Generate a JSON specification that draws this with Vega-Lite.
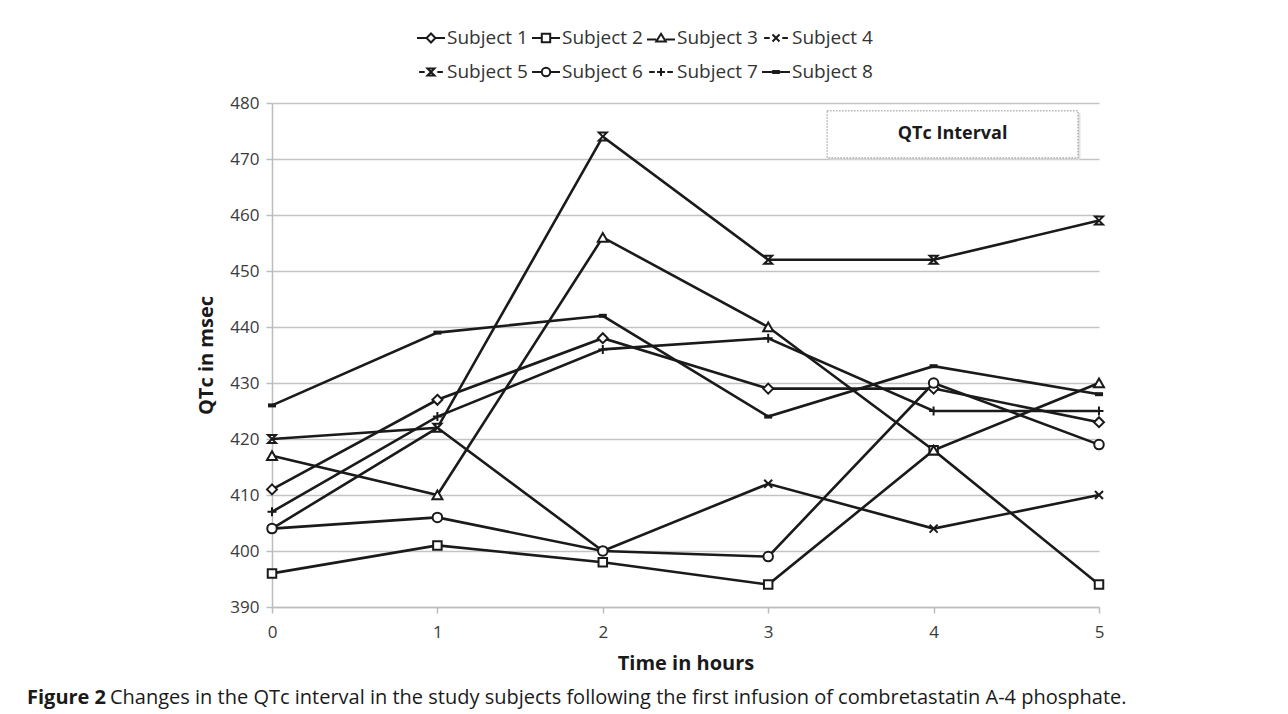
{
  "$schema": "https://vega.github.io/schema/vega-lite/v6.json",
  "width": 827,
  "height": 504,
  "autosize": {"type": "pad"},
  "padding": {"left": 27, "top": 23, "right": 20, "bottom": 6},
  "background": "white",
  "config": {"font": "Open Sans", "view": {"stroke": null}},
  "title": {
    "text": "Figure 2",
    "subtitle": "Changes in the QTc interval in the study subjects following the first infusion of combretastatin A-4 phosphate.",
    "orient": "bottom",
    "anchor": "start",
    "frame": "group",
    "dx": -162,
    "offset": 15,
    "font": "Open Sans",
    "fontSize": 20,
    "fontWeight": "bold",
    "color": "#1a1a1a",
    "subtitleFont": "Open Sans",
    "subtitleFontSize": 20,
    "subtitleFontWeight": "normal",
    "subtitleColor": "#1a1a1a",
    "subtitlePadding": -20,
    "encoding": {"dx": {"value": -245}}
  },
  "datasets": {
    "qtc": [
      {"subject": "Subject 1", "time": 0, "qtc": 411},
      {"subject": "Subject 1", "time": 1, "qtc": 427},
      {"subject": "Subject 1", "time": 2, "qtc": 438},
      {"subject": "Subject 1", "time": 3, "qtc": 429},
      {"subject": "Subject 1", "time": 4, "qtc": 429},
      {"subject": "Subject 1", "time": 5, "qtc": 423},
      {"subject": "Subject 2", "time": 0, "qtc": 396},
      {"subject": "Subject 2", "time": 1, "qtc": 401},
      {"subject": "Subject 2", "time": 2, "qtc": 398},
      {"subject": "Subject 2", "time": 3, "qtc": 394},
      {"subject": "Subject 2", "time": 4, "qtc": 418},
      {"subject": "Subject 2", "time": 5, "qtc": 394},
      {"subject": "Subject 3", "time": 0, "qtc": 417},
      {"subject": "Subject 3", "time": 1, "qtc": 410},
      {"subject": "Subject 3", "time": 2, "qtc": 456},
      {"subject": "Subject 3", "time": 3, "qtc": 440},
      {"subject": "Subject 3", "time": 4, "qtc": 418},
      {"subject": "Subject 3", "time": 5, "qtc": 430},
      {"subject": "Subject 4", "time": 0, "qtc": 404},
      {"subject": "Subject 4", "time": 1, "qtc": 422},
      {"subject": "Subject 4", "time": 2, "qtc": 400},
      {"subject": "Subject 4", "time": 3, "qtc": 412},
      {"subject": "Subject 4", "time": 4, "qtc": 404},
      {"subject": "Subject 4", "time": 5, "qtc": 410},
      {"subject": "Subject 5", "time": 0, "qtc": 420},
      {"subject": "Subject 5", "time": 1, "qtc": 422},
      {"subject": "Subject 5", "time": 2, "qtc": 474},
      {"subject": "Subject 5", "time": 3, "qtc": 452},
      {"subject": "Subject 5", "time": 4, "qtc": 452},
      {"subject": "Subject 5", "time": 5, "qtc": 459},
      {"subject": "Subject 6", "time": 0, "qtc": 404},
      {"subject": "Subject 6", "time": 1, "qtc": 406},
      {"subject": "Subject 6", "time": 2, "qtc": 400},
      {"subject": "Subject 6", "time": 3, "qtc": 399},
      {"subject": "Subject 6", "time": 4, "qtc": 430},
      {"subject": "Subject 6", "time": 5, "qtc": 419},
      {"subject": "Subject 7", "time": 0, "qtc": 407},
      {"subject": "Subject 7", "time": 1, "qtc": 424},
      {"subject": "Subject 7", "time": 2, "qtc": 436},
      {"subject": "Subject 7", "time": 3, "qtc": 438},
      {"subject": "Subject 7", "time": 4, "qtc": 425},
      {"subject": "Subject 7", "time": 5, "qtc": 425},
      {"subject": "Subject 8", "time": 0, "qtc": 426},
      {"subject": "Subject 8", "time": 1, "qtc": 439},
      {"subject": "Subject 8", "time": 2, "qtc": 442},
      {"subject": "Subject 8", "time": 3, "qtc": 424},
      {"subject": "Subject 8", "time": 4, "qtc": 433},
      {"subject": "Subject 8", "time": 5, "qtc": 428}
    ],
    "box": [{"label": "QTc Interval"}]
  },
  "layer": [
    {
      "data": {"name": "qtc"},
      "mark": {"type": "line", "color": "#1a1a1a", "strokeWidth": 2.6},
      "encoding": {
        "x": {
          "field": "time",
          "type": "quantitative",
          "title": "Time in hours",
          "scale": {"domain": [0, 5], "nice": false, "zero": false},
          "axis": {
            "values": [0, 1, 2, 3, 4, 5],
            "format": "d",
            "grid": false,
            "domainColor": "#bdbdbd",
            "domainWidth": 1.5,
            "tickColor": "#bdbdbd",
            "tickWidth": 1.5,
            "tickSize": 6,
            "labelFlush": false,
            "labelFont": "Open Sans",
            "labelFontSize": 17,
            "labelColor": "#3a3a3a",
            "labelPadding": 11,
            "titleFont": "Open Sans",
            "titleFontSize": 20,
            "titleFontWeight": "bold",
            "titleColor": "#1a1a1a",
            "titlePadding": 13
          }
        },
        "y": {
          "field": "qtc",
          "type": "quantitative",
          "title": "QTc in msec",
          "scale": {"domain": [390, 480], "nice": false, "zero": false},
          "axis": {
            "values": [390, 400, 410, 420, 430, 440, 450, 460, 470, 480],
            "grid": true,
            "gridColor": "#c3c3c3",
            "gridWidth": 1.5,
            "domainColor": "#bdbdbd",
            "domainWidth": 1.5,
            "tickColor": "#bdbdbd",
            "tickWidth": 1.5,
            "tickSize": 6,
            "labelFont": "Open Sans",
            "labelFontSize": 17,
            "labelColor": "#3a3a3a",
            "labelPadding": 7,
            "titleFont": "Open Sans",
            "titleFontSize": 20,
            "titleFontWeight": "bold",
            "titleColor": "#1a1a1a",
            "titlePadding": 13
          }
        },
        "detail": {"field": "subject"}
      }
    },
    {
      "data": {"name": "qtc"},
      "mark": {"type": "point", "filled": true, "fill": "white", "stroke": "#1a1a1a", "strokeWidth": 2, "size": 100, "opacity": 1},
      "encoding": {
        "x": {"field": "time", "type": "quantitative", "title": "Time in hours"},
        "y": {"field": "qtc", "type": "quantitative", "title": "QTc in msec"},
        "shape": {
          "field": "subject",
          "type": "nominal",
          "scale": {
            "domain": ["Subject 1", "Subject 2", "Subject 3", "Subject 4", "Subject 5", "Subject 6", "Subject 7", "Subject 8"],
            "range": [
              "M0,-1L1,0L0,1L-1,0Z",
              "M-0.85,-0.85H0.85V0.85H-0.85Z",
              "M0,-0.9L1,0.85H-1Z",
              "M-0.8,-0.8L0.8,0.8M-0.8,0.8L0.8,-0.8",
              "M-0.8,-0.8H0.8L-0.8,0.8H0.8Z",
              "M0.95,0A0.95,0.95,0,1,1,-0.95,0A0.95,0.95,0,1,1,0.95,0Z",
              "M-0.9,0H0.9M0,-0.9V0.9",
              "M-0.6,-0.2H0.6V0.2H-0.6Z"
            ]
          },
          "legend": null
        }
      }
    },
    {
      "data": {"name": "qtc"},
      "transform": [{"filter": "false"}],
      "mark": {"type": "point", "filled": false, "color": "#1a1a1a", "strokeWidth": 2, "opacity": 1},
      "encoding": {
        "x": {"field": "time", "type": "quantitative", "title": "Time in hours"},
        "y": {"field": "qtc", "type": "quantitative", "title": "QTc in msec"},
        "shape": {
          "field": "subject",
          "type": "nominal",
          "scale": {
            "domain": ["Subject 1", "Subject 2", "Subject 3", "Subject 4", "Subject 5", "Subject 6", "Subject 7", "Subject 8"],
            "range": [
              "M-1,0H-0.32M0.32,0H1M0,-0.32L0.32,0L0,0.32L-0.32,0Z",
              "M-1,0H-0.3M0.3,0H1M-0.3,-0.3H0.3V0.3H-0.3Z",
              "M-1,0.1H-0.34M0.34,0.1H1M0,-0.3L0.34,0.25H-0.34Z",
              "M-0.85,0H-0.45M0.45,0H0.85M-0.25,-0.25L0.25,0.25M-0.25,0.25L0.25,-0.25",
              "M-0.85,0H-0.45M0.45,0H0.85M-0.25,-0.25H0.25L-0.25,0.25H0.25Z",
              "M-1,0H-0.3M0.3,0H1M0.3,0A0.3,0.3,0,1,1,-0.3,0A0.3,0.3,0,1,1,0.3,0Z",
              "M-0.85,0H-0.45M0.45,0H0.85M-0.28,0H0.28M0,-0.28V0.28",
              "M-1,0H1M-0.2,-0.08H0.2V0.08H-0.2Z"
            ]
          },
          "legend": {
            "title": null,
            "orient": "none",
            "legendX": 144,
            "legendY": -80,
            "direction": "horizontal",
            "columns": 4,
            "symbolSize": 784,
            "symbolStrokeWidth": 2,
            "symbolStrokeColor": "#1a1a1a",
            "symbolOpacity": 1,
            "labelFont": "Open Sans",
            "labelFontSize": 19,
            "labelColor": "#333333",
            "labelOffset": 1,
            "columnPadding": 0,
            "rowPadding": 9
          }
        }
      }
    },
    {
      "data": {"name": "box"},
      "mark": {"type": "rect", "fill": "#d9d9d9", "opacity": 0.8},
      "encoding": {
        "x": {"datum": 3.37, "type": "quantitative", "title": "Time in hours"},
        "x2": {"datum": 4.888},
        "y": {"datum": 478.2, "type": "quantitative", "title": "QTc in msec"},
        "y2": {"datum": 469.8}
      }
    },
    {
      "data": {"name": "box"},
      "mark": {"type": "rect", "fill": "white", "stroke": "#8c8c8c", "strokeWidth": 1, "strokeDash": [1.5, 1.5]},
      "encoding": {
        "x": {"datum": 3.356, "type": "quantitative", "title": "Time in hours"},
        "x2": {"datum": 4.873},
        "y": {"datum": 478.6, "type": "quantitative", "title": "QTc in msec"},
        "y2": {"datum": 470.2}
      }
    },
    {
      "data": {"name": "box"},
      "mark": {"type": "text", "font": "Open Sans", "fontWeight": "bold", "fontSize": 18, "color": "#1a1a1a", "baseline": "middle", "align": "center"},
      "encoding": {
        "x": {"datum": 4.115, "type": "quantitative", "title": "Time in hours"},
        "y": {"datum": 474.4, "type": "quantitative", "title": "QTc in msec"},
        "text": {"field": "label"}
      }
    }
  ],
  "resolve": {"scale": {"shape": "independent"}, "legend": {"shape": "independent"}}
}
